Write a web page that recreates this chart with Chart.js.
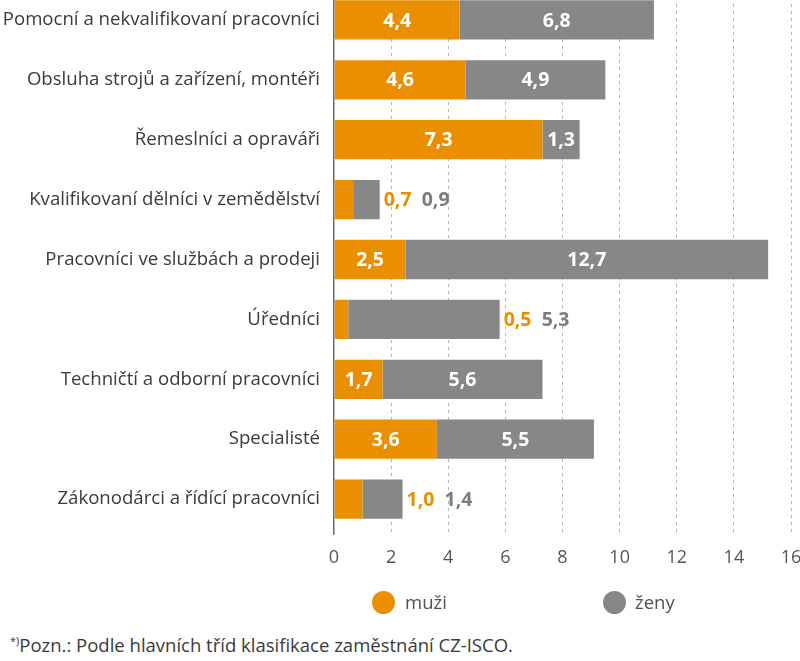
<!DOCTYPE html>
<html>
<head>
<meta charset="utf-8">
<script src="https://cdn.jsdelivr.net/npm/chart.js@4/dist/chart.umd.min.js"></script>
<style>
  html, body { margin: 0; padding: 0; background: #fff; }
  body { width: 800px; height: 661px; position: relative; overflow: hidden; font-family: "Open Sans", sans-serif; }
  #wrap { position: absolute; left: 0; top: -10px; width: 800px; height: 600px; }
  .leg { position: absolute; top: 591px; height: 24px; line-height: 24px; font-size: 18.5px; color: #505050; }
  .dot { position: absolute; top: 0; width: 23px; height: 23px; border-radius: 50%; }
  .leg span.t { position: absolute; top: -1px; white-space: nowrap; }
  #note { position: absolute; left: 10px; top: 632px; font-size: 18.5px; color: #3a3a3a; white-space: nowrap; }
  #note sup { font-size: 11px; vertical-align: 7px; }
</style>
</head>
<body>
<div id="wrap"><canvas id="c" width="800" height="600"></canvas></div>
<div class="leg" style="left:372px;"><div class="dot" style="left:0;background:#EA8F00;"></div><span class="t" style="left:33px;">muži</span></div>
<div class="leg" style="left:603px;"><div class="dot" style="left:0;background:#878787;"></div><span class="t" style="left:32px;">ženy</span></div>
<div id="note"><sup>*)</sup>Pozn.: Podle hlavních tříd klasifikace zaměstnání CZ-ISCO.</div>
<script>
const categories = [
  "Pomocní a nekvalifikovaní pracovníci",
  "Obsluha strojů a zařízení, montéři",
  "Řemeslníci a opraváři",
  "Kvalifikovaní dělníci v zemědělství",
  "Pracovníci ve službách a prodeji",
  "Úředníci",
  "Techničtí a odborní pracovníci",
  "Specialisté",
  "Zákonodárci a řídící pracovníci"
];
const muzi = [4.4, 4.6, 7.3, 0.7, 2.5, 0.5, 1.7, 3.6, 1.0];
const zeny = [6.8, 4.9, 1.3, 0.9, 12.7, 5.3, 5.6, 5.5, 1.4];
const xTicks = [0, 2, 4, 6, 8, 10, 12, 14, 16];

const ORANGE = "#EA8F00";
const GRAY = "#878787";

function fmt(v) { return v.toFixed(1).replace(".", ","); }

const labelPlugin = {
  id: "barLabels",
  afterDatasetsDraw(chart) {
    const ctx = chart.ctx;
    const m0 = chart.getDatasetMeta(0).data;
    const m1 = chart.getDatasetMeta(1).data;
    ctx.save();
    ctx.font = "bold 19.5px 'Open Sans', sans-serif";
    ctx.textBaseline = "middle";
    for (let i = 0; i < categories.length; i++) {
      const a = m0[i], b = m1[i];
      const y = a.y + 1;
      if (muzi[i] < 1.5) {
        const end = b.x;
        ctx.textAlign = "left";
        ctx.fillStyle = ORANGE;
        ctx.fillText(fmt(muzi[i]), end + 4, y);
        ctx.fillStyle = "#7d7d7d";
        ctx.fillText(fmt(zeny[i]), end + 42, y);
      } else {
        ctx.textAlign = "center";
        ctx.fillStyle = "#ffffff";
        ctx.fillText(fmt(muzi[i]), (a.x + a.base) / 2, y);
        ctx.fillText(fmt(zeny[i]), (b.x + b.base) / 2, y);
      }
    }
    ctx.restore();
  }
};

new Chart(document.getElementById("c"), {
  type: "bar",
  data: {
    labels: categories,
    datasets: [
      { label: "muži", data: muzi, backgroundColor: ORANGE, borderWidth: 0, barPercentage: 0.656, categoryPercentage: 1 },
      { label: "ženy", data: zeny, backgroundColor: GRAY, borderWidth: 0, barPercentage: 0.656, categoryPercentage: 1 }
    ]
  },
  options: {
    indexAxis: "y",
    responsive: false,
    animation: false,
    devicePixelRatio: 1,
    layout: { padding: { left: 0, right: 9, top: 0, bottom: 0 } },
    plugins: { legend: { display: false }, tooltip: { enabled: false } },
    scales: {
      x: {
        stacked: true,
        min: 0, max: 16,
        afterBuildTicks(scale) { scale.ticks = xTicks.map(v => ({ value: v })); },
        afterFit(scale) { scale.height = 61; scale.paddingRight = 0; scale.paddingLeft = 0; },
        border: { display: false, dash: ctx => (ctx.tick && ctx.tick.value === 0) ? [] : [3, 4] },
        grid: {
          color: ctx => (ctx.tick && ctx.tick.value === 0) ? "#6a6a6a" : "#b4b4b4",
          lineWidth: ctx => (ctx.tick && ctx.tick.value === 0) ? 1.5 : 1,
          tickColor: ctx => (ctx.tick && ctx.tick.value === 0) ? "#6a6a6a" : "#b4b4b4",
          tickWidth: ctx => (ctx.tick && ctx.tick.value === 0) ? 1.5 : 1,
          tickBorderDash: ctx => (ctx.tick && ctx.tick.value === 0) ? [] : [3, 4],
          tickLength: 6,
          drawTicks: true
        },
        ticks: {
          color: "#555555",
          font: { family: "'Open Sans', sans-serif", size: 18 },
          padding: 12,
          maxRotation: 0,
          autoSkip: false,
          callback: v => String(v)
        }
      },
      y: {
        stacked: true,
        afterFit(scale) { scale.width = 334; scale.paddingTop = 0; scale.paddingBottom = 0; },
        border: { display: false },
        grid: { display: false, drawTicks: false },
        ticks: {
          color: "#3a3a3a",
          font: { family: "'Open Sans', sans-serif", size: 18.6 },
          padding: 14,
          autoSkip: false
        }
      }
    }
  },
  plugins: [labelPlugin]
});
</script>
</body>
</html>
